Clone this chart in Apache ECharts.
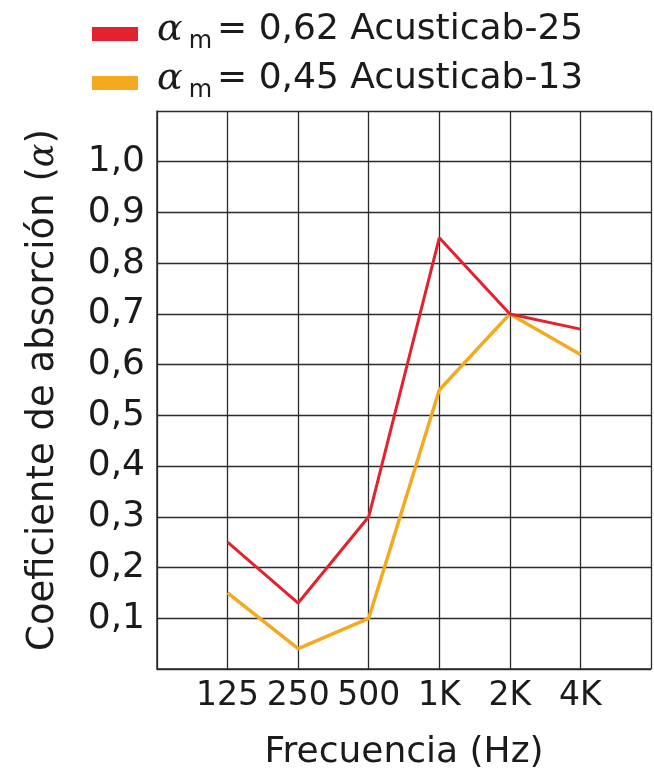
<!DOCTYPE html>
<html>
<head>
<meta charset="utf-8">
<script src="https://cdn.jsdelivr.net/npm/echarts@6/dist/echarts.min.js"></script>
<style>
  html, body { margin: 0; padding: 0; background: #fff; }
  #chart { width: 654px; height: 776px; }
</style>
</head>
<body>
<div id="chart"></div>
<script>
const freqLabels = ["125", "250", "500", "1K", "2K", "4K"];
const acusticab25 = [0.25, 0.13, 0.30, 0.85, 0.70, 0.67];
const acusticab13 = [0.15, 0.04, 0.10, 0.55, 0.70, 0.62];
const seriesNames = ["Acusticab-25", "Acusticab-13"];
const meanAlpha = { "Acusticab-25": "0,62", "Acusticab-13": "0,45" };

const font = "DejaVu Sans";
const ink = "#1b1b1b";
const gridColor = "#2b2b2b";

const chart = echarts.init(document.getElementById("chart"));

// categories sit on the grid lines 1..6, so use a value axis 0..7
const toPoints = (vals) => vals.map((v, i) => [i + 1, v]);

chart.setOption({
  animation: false,
  textStyle: { fontFamily: font, color: ink },
  legend: {
    data: seriesNames,
    orient: "vertical",
    left: 92,
    top: 11,
    padding: 0,
    icon: "rect",
    itemWidth: 46,
    itemHeight: 14,
    itemGap: 3,
    formatter: (name) => "{a|α}{s|m}{t|= " + meanAlpha[name] + " " + name + "}",
    textStyle: {
      rich: {
        a: { fontFamily: "DejaVu Serif", fontStyle: "italic", fontSize: 38, color: ink, lineHeight: 36, padding: [0, 6, 8, 14] },
        s: { fontFamily: font, fontSize: 24, color: ink, lineHeight: 24, padding: [18, 5, 2, 0] },
        t: { fontFamily: font, fontSize: 36, color: ink, lineHeight: 36, padding: [0, 0, 8, 0] }
      }
    }
  },
  grid: { left: 157, right: 2, top: 111, bottom: 107 },
  xAxis: {
    type: "value",
    min: 0,
    max: 7,
    interval: 1,
    name: "Frecuencia (Hz)",
    nameLocation: "middle",
    nameGap: 66,
    nameTextStyle: { fontFamily: font, fontSize: 36, color: ink },
    axisLine: { show: true, lineStyle: { color: gridColor, width: 1.5 } },
    axisTick: { show: false },
    axisLabel: {
      margin: 11,
      fontFamily: font,
      fontSize: 33,
      color: ink,
      formatter: (v) => freqLabels[v - 1] || ""
    },
    splitLine: { show: true, lineStyle: { color: gridColor, width: 1.3 } }
  },
  yAxis: {
    type: "value",
    min: 0,
    max: 1.1,
    interval: 0.1,
    name: "Coeficiente de absorción ({i|α})",
    nameLocation: "middle",
    nameGap: 95,
    nameTextStyle: {
      fontFamily: font,
      fontSize: 37,
      color: ink,
      rich: {
        i: { fontFamily: "DejaVu Serif", fontStyle: "italic", fontSize: 35, color: ink }
      }
    },
    axisLine: { show: true, lineStyle: { color: gridColor, width: 1.5 } },
    axisTick: { show: false },
    axisLabel: {
      margin: 12,
      fontFamily: font,
      fontSize: 36,
      color: ink,
      formatter: (v) => (v > 0.05 && v < 1.05 ? v.toFixed(1).replace(".", ",") : "")
    },
    splitLine: { show: true, lineStyle: { color: gridColor, width: 1.3 } }
  },
  series: [
    {
      name: "Acusticab-13",
      type: "line",
      data: toPoints(acusticab13),
      color: "#f4aa20",
      showSymbol: false,
      lineStyle: { width: 3.5, color: "#f4aa20" }
    },
    {
      name: "Acusticab-25",
      type: "line",
      data: toPoints(acusticab25),
      color: "#e4222e",
      showSymbol: false,
      lineStyle: { width: 3, color: "#e4222e" }
    }
  ]
});
</script>
</body>
</html>
